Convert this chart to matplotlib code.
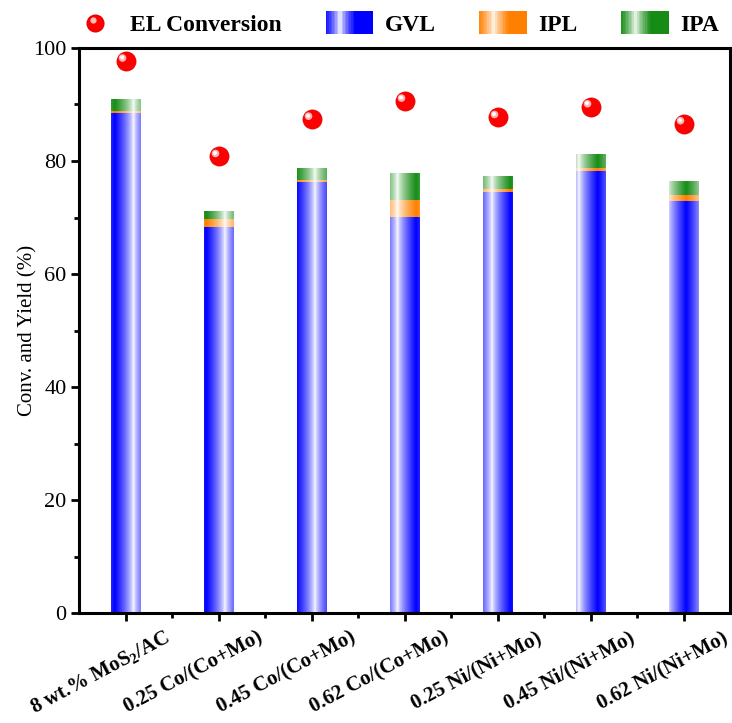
import numpy as np
import matplotlib.pyplot as plt
from matplotlib.colors import to_rgb
from matplotlib.legend_handler import HandlerBase
from matplotlib.patches import Rectangle
from matplotlib.lines import Line2D
from matplotlib.transforms import offset_copy, ScaledTranslation

plt.rcParams['font.family'] = 'Liberation Serif'
plt.rcParams['mathtext.fontset'] = 'custom'
plt.rcParams['mathtext.rm'] = 'Liberation Serif'
plt.rcParams['mathtext.bf'] = 'Liberation Serif:bold'

# data
catalysts = ["8 wt.% MoS$_\\mathbf{2}$/AC", "0.25 Co/(Co+Mo)", "0.45 Co/(Co+Mo)",
             "0.62 Co/(Co+Mo)", "0.25 Ni/(Ni+Mo)", "0.45 Ni/(Ni+Mo)", "0.62 Ni/(Ni+Mo)"]
gvl = [88.5, 68.4, 76.3, 70.0, 74.5, 78.3, 73.0]
ipl = [0.4, 1.3, 0.3, 3.1, 0.5, 0.4, 0.9]
ipa = [2.0, 1.3, 2.0, 4.7, 2.2, 2.4, 2.4]
conversion = [97.7, 80.8, 87.4, 90.6, 87.7, 89.6, 86.6]

# where the white stripe of the gradient sits in each bar (fraction of bar width)
phases = [0.75, 0.7, 0.6, 0.25, 0.3, 0.1, -0.05]

BLUE = '#0000FF'
ORANGE = '#FF8000'
GREEN = '#168C16'


def gradient(base, phase, n=80, period=1.25, width=None):
    if width is None:
        width = period / 2
    u = (np.arange(n) + 0.5) / n
    d = np.abs(((u - phase + period / 2) % period) - period / 2)
    f = np.clip(d / width, 0, 1) ** 0.7
    rgb = (1 - f)[:, None] * np.ones(3) + f[:, None] * np.array(to_rgb(base))
    return rgb


class GradientHandler(HandlerBase):
    def __init__(self, base):
        super().__init__()
        self.base = base

    def create_artists(self, legend, orig_handle, xdescent, ydescent,
                       width, height, fontsize, trans):
        cols = gradient(self.base, 0.3, n=30, period=2.0, width=0.32)
        n = len(cols)
        h = height * 1.45
        y0 = -ydescent - (h - height) / 2
        arts = []
        for k, c in enumerate(cols):
            arts.append(Rectangle((-xdescent + k * width / n, y0), width / n * 1.05, h,
                                  facecolor=c, edgecolor='none', transform=trans))
        return arts


class SphereHandler(HandlerBase):
    def create_artists(self, legend, orig_handle, xdescent, ydescent,
                       width, height, fontsize, trans):
        cx = -xdescent + width / 2
        cy = -ydescent + height / 2
        ball = Line2D([cx], [cy], marker='o', ms=12, color='#FF0000',
                      mec='#E00000', ls='none', transform=trans)
        glow = Line2D([cx - 1.5], [cy + 1.5], marker='o', ms=4.5, color='#FFD0D0',
                      mec='none', ls='none', alpha=0.9, transform=trans)
        return [ball, glow]


fig = plt.figure(figsize=(7.32, 7.23), dpi=100)
ax = fig.add_axes([79 / 732, 110 / 723, 651 / 732, 565 / 723])

x = np.arange(len(catalysts))
w = 0.32
bottoms2 = np.array(gvl)
bottoms3 = bottoms2 + np.array(ipl)

b1 = ax.bar(x, gvl, w, facecolor='none', edgecolor='none')
b2 = ax.bar(x, ipl, w, bottom=bottoms2, facecolor='none', edgecolor='none')
b3 = ax.bar(x, ipa, w, bottom=bottoms3, facecolor='none', edgecolor='none')

for bars, base in [(b1, BLUE), (b2, ORANGE), (b3, GREEN)]:
    for i, r in enumerate(bars.patches):
        x0, y0 = r.get_x(), r.get_y()
        img = gradient(base, phases[i])[None, :, :]
        ax.imshow(img, extent=(x0, x0 + r.get_width(), y0, y0 + r.get_height()),
                  aspect='auto', interpolation='bilinear', zorder=2)

ax.scatter(x, conversion, s=190, color='#FF0000', edgecolor='#E00000',
           linewidth=0.5, zorder=4)
hl = offset_copy(ax.transData, fig=fig, x=-3, y=3, units='dots')
ax.scatter(x, conversion, s=30, color='#FFC8C8', edgecolor='none', alpha=0.9,
           transform=hl, zorder=5)
hl2 = offset_copy(ax.transData, fig=fig, x=-3.5, y=3.5, units='dots')
ax.scatter(x, conversion, s=8, color='white', edgecolor='none',
           transform=hl2, zorder=6)

ax.set_xlim(-0.5, 6.5)
ax.set_ylim(0, 100)
ax.set_yticks(np.arange(0, 101, 20))
ax.set_yticks(np.arange(10, 100, 20), minor=True)
ax.set_xticks(x)
ax.set_xticks(x[:-1] + 0.5, minor=True)
ax.tick_params(axis='both', which='major', direction='out', length=6, width=2,
               labelsize=16, pad=3)
ax.tick_params(axis='both', which='minor', direction='out', length=3.5, width=2)
ax.set_xticklabels(catalysts, rotation=28, ha='right', va='center',
                   rotation_mode='anchor', fontsize=15, fontweight='bold')
shift = ScaledTranslation(0.43, -0.11, fig.dpi_scale_trans)
for lbl in ax.get_xticklabels():
    lbl.set_transform(lbl.get_transform() + shift)
for s in ax.spines.values():
    s.set_linewidth(2.2)
ax.set_ylabel('Conv. and Yield (%)', fontsize=15, labelpad=-3)

handles = [Line2D([], []), Rectangle((0, 0), 1, 1), Rectangle((0, 0), 1, 1),
           Rectangle((0, 0), 1, 1)]
labels = ['EL Conversion', 'GVL', 'IPL', 'IPA']
hmap = {handles[0]: SphereHandler(), handles[1]: GradientHandler(BLUE),
        handles[2]: GradientHandler(ORANGE), handles[3]: GradientHandler(GREEN)}
fig.legend(handles, labels, handler_map=hmap, loc='center',
           bbox_to_anchor=(0.54, 1 - 25 / 723), ncol=4, frameon=False,
           prop={'size': 17, 'weight': 'bold'}, handlelength=2.0,
           handletextpad=0.5, columnspacing=1.85)

fig.savefig('out.png', dpi=100)
